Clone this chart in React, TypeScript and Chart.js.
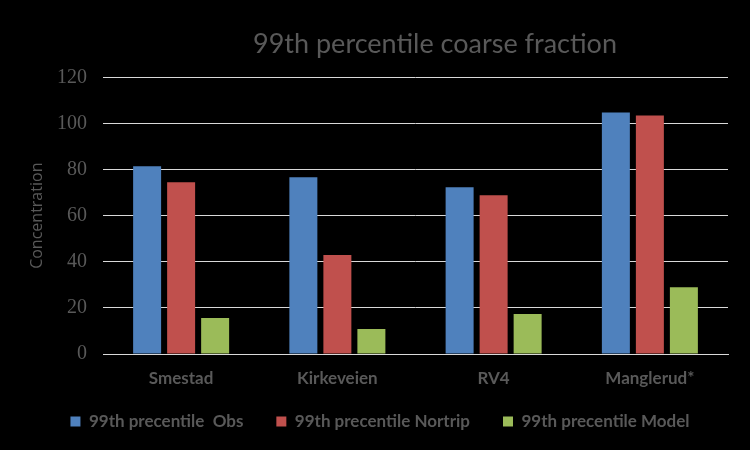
import React, { useEffect, useRef } from "react";
import { Chart, registerables } from "chart.js";

Chart.register(...registerables);

const categories = ["Smestad", "Kirkeveien", "RV4", "Manglerud*"];
const obsValues = [81.5, 76.7, 72.3, 104.8];
const nortripValues = [74.5, 42.9, 68.9, 103.5];
const modelValues = [15.6, 10.8, 17.3, 29.0];
const seriesLabels = ["99th precentile  Obs", "99th precentile Nortrip", "99th precentile Model"];
const titleText = "99th percentile coarse fraction";
const yAxisTitle = "Concentration";

const TEXT = "#595959";

export default function App() {
  const ref = useRef<HTMLCanvasElement | null>(null);

  useEffect(() => {
    document.body.style.margin = "0";
    document.body.style.background = "#000";
    const canvas = ref.current;
    if (!canvas) return;

    const layoutTweaks = {
      id: "layoutTweaks",
      afterLayout(chart: any) {
        const t = chart.titleBlock;
        if (t) {
          t.left = 120;
          t.right = 750;
        }
        const x = chart.scales.x;
        if (x) x.bottom = 450;
        const lg = chart.legend;
        if (lg) {
          lg.left = 5;
          lg.right = 755;
        }
      },
    };

    const chart = new Chart(canvas, {
      type: "bar",
      data: {
        labels: categories,
        datasets: [
          { label: seriesLabels[0], data: obsValues, backgroundColor: "#4F81BD" },
          { label: seriesLabels[1], data: nortripValues, backgroundColor: "#C0504D" },
          { label: seriesLabels[2], data: modelValues, backgroundColor: "#9BBB59" },
        ],
      },
      plugins: [layoutTweaks],
      options: {
        animation: false,
        responsive: false,
        maintainAspectRatio: false,
        datasets: {
          bar: { categoryPercentage: 0.653, barPercentage: 0.823 },
        },
        layout: { padding: { left: 0, right: 22, top: 0, bottom: 10 } },
        plugins: {
          title: {
            display: true,
            text: titleText,
            color: TEXT,
            font: { family: "Lato", size: 27, weight: "normal" },
            padding: { top: 28, bottom: 17 },
          },
          legend: {
            position: "bottom",
            labels: {
              color: TEXT,
              font: { family: "Lato", size: 17, weight: "bold" },
              boxWidth: 10,
              boxHeight: 10,
              padding: 33,
            },
          },
          tooltip: { enabled: false },
        },
        scales: {
          x: {
            grid: { display: false, drawTicks: false },
            border: { display: true, color: "#d9d9d9", width: 1 },
            ticks: {
              color: TEXT,
              font: { family: "Lato", size: 17, weight: "bold" },
              padding: 14,
            },
            afterFit(scale: any) {
              const lh = scale.chart.legend ? scale.chart.legend.height : 0;
              scale.height = 450 - 354 - lh - 10;
            },
          },
          y: {
            min: 0,
            max: 120,
            ticks: {
              stepSize: 20,
              color: TEXT,
              font: { family: "Liberation Serif", size: 20 },
              padding: 16,
            },
            grid: { color: "#d9d9d9", drawTicks: false },
            border: { display: false },
            title: {
              display: true,
              text: yAxisTitle,
              color: TEXT,
              font: { family: "Open Sans", size: 16 },
              padding: { top: 28, bottom: 0 },
            },
            afterFit(scale: any) {
              scale.width = 103;
            },
          },
        },
      },
    });
    return () => chart.destroy();
  }, []);

  return (
    <div style={{ width: 750, height: 450, background: "#000" }}>
      <canvas ref={ref} width={750} height={450} style={{ display: "block" }} />
    </div>
  );
}
